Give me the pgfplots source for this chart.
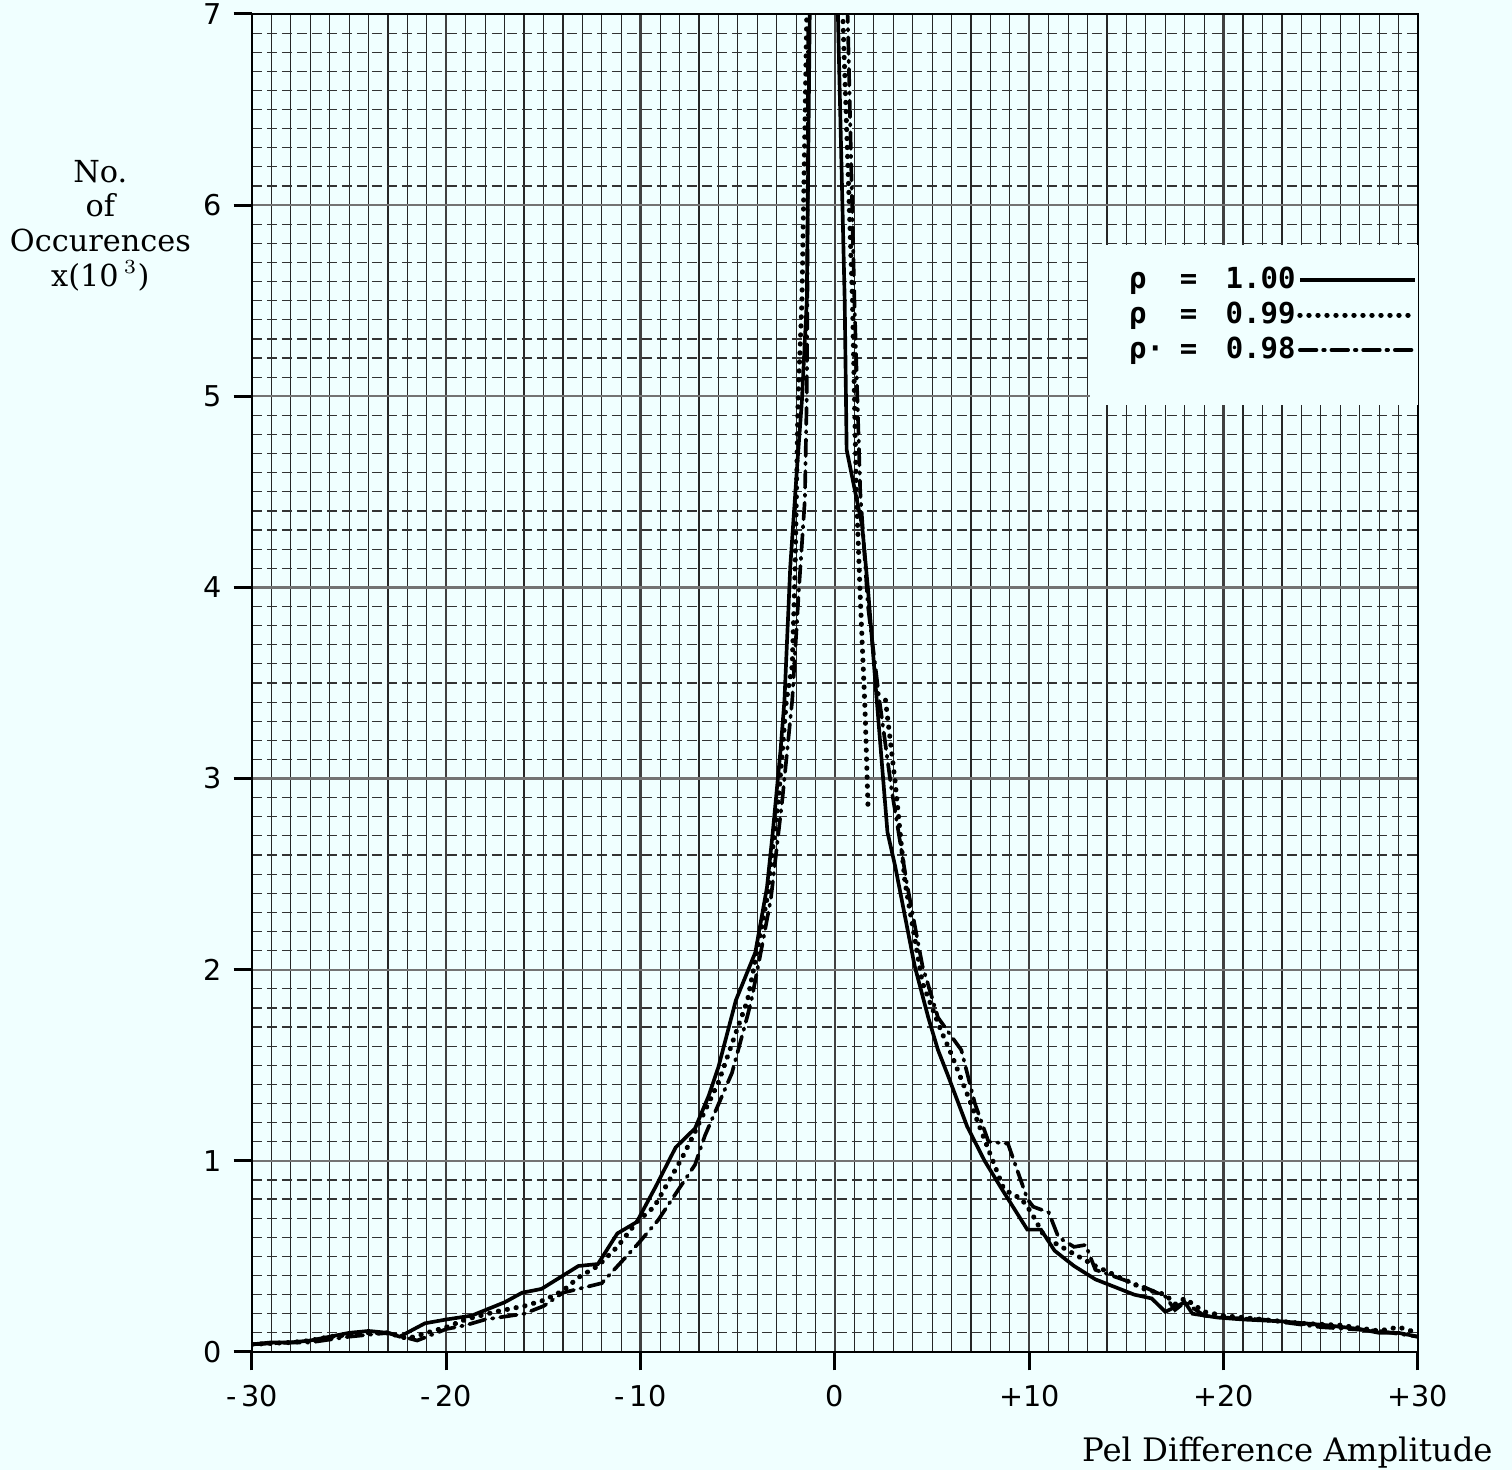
\documentclass[border=0pt]{standalone}
\usepackage{fontspec}
\setmainfont{DejaVu Serif}
\newfontfamily\ticksf{DejaVu Sans}
\newfontfamily\legmono{DejaVu Sans Mono}
\usepackage{pgfplots}
\pgfplotsset{compat=1.18}
\definecolor{bgpaper}{RGB}{240,255,255}

\begin{document}
\begin{tikzpicture}
\fill[bgpaper] (-75.6pt,-35.4pt) rectangle (378pt,405.6pt);
\begin{axis}[
  scale only axis, width=349.8pt, height=401.4pt,
  at={(0pt,0pt)}, anchor=south west,
  xmin=-30, xmax=30, ymin=0, ymax=7,
  xtick={-30,-20,...,30},
  xticklabels={-\,30,-\,20,-\,10,0,+10,+20,+30},
  ytick={0,1,...,7},
  minor x tick num=9, minor y tick num=9,
  minor tick length=0pt,
  tick pos=left, tick align=outside,
  x tick style={black, line width=0.9pt}, y tick style={black, line width=0.9pt},
  major tick length=5.5pt,
  grid=both,
  major x grid style={black!75, line width=0.7pt},
  major y grid style={black!55, line width=0.7pt},
  minor x grid style={black!85, line width=0.35pt},
  minor y grid style={black!80, line width=0.35pt, dash pattern=on 3pt off 1.5pt},
  axis line style={black, line width=0.5pt},
  /pgf/number format/assume math mode=true,
  tick label style={font=\ticksf\fontsize{8.6}{10}\selectfont},
  xticklabel style={yshift=-1pt},
  xlabel={Pel Difference Amplitude},
  xlabel style={at={(rel axis cs:0.888,-0.075)}, anchor=center, font=\fontsize{9.7}{11}\selectfont},
  ylabel={No.\\of\\Occurences\\x(10\,$^{3}$)},
  ylabel style={rotate=-90, at={(rel axis cs:-0.13,0.842)}, anchor=center, align=center,
    font=\fontsize{9.1}{10.4}\selectfont},
  legend plot pos=right,
  legend cell align=left,
  legend image code/.code={\draw[#1] (0pt,0pt) -- (34.5pt,0pt);},
  legend style={at={(rel axis cs:1.0,0.775)}, anchor=east, draw=none, fill=none,
    inner xsep=0pt,
    font=\legmono\bfseries\fontsize{8.7}{10}\selectfont, row sep=0.5pt,
    nodes={inner xsep=0.5pt, inner ysep=1pt, text height=6.5pt, text depth=1.5pt}},
  unbounded coords=jump,
]
\fill[bgpaper] (rel axis cs:0.719,0.708) rectangle (rel axis cs:1,0.827);

% rho = 1.00
\addplot[black, line width=1.1pt] coordinates {
(-30,0.04) (-29,0.05) (-28,0.05) (-27,0.06) (-26,0.08) (-25,0.10) (-24,0.11) (-23,0.10)
(-22.4,0.08) (-21.1,0.15) (-20,0.17) (-18.7,0.19) (-17,0.26) (-16.1,0.31) (-15.1,0.33)
(-13.2,0.45) (-12.2,0.46) (-11.2,0.62) (-10.2,0.68) (-9.2,0.87) (-8.2,1.07) (-7.2,1.17)
(-6.5,1.34) (-6.0,1.49) (-5.1,1.84) (-4.1,2.09) (-3.5,2.43) (-3.2,2.72) (-2.8,3.15)
(-2.6,3.41) (-2.3,4.11) (-1.95,4.63) (-1.7,4.98) (-1.45,5.5) (-1.3,7.0) (-1.25,8.5)
(0.1,8.5) (0.15,7.0) (0.5,5.5) (0.6,4.72) (1.4,4.32) (1.7,3.99) (2.15,3.41) (2.7,2.72)
(3.1,2.54) (3.6,2.28) (4.1,2.02) (4.8,1.75) (5.3,1.58) (5.8,1.45) (6.8,1.18) (7.7,1.00)
(8.6,0.85) (9.9,0.64) (10.6,0.64) (11.3,0.53) (12.3,0.45) (13.4,0.38) (15.4,0.30)
(16.3,0.28) (17.0,0.21) (18.0,0.26) (18.4,0.20) (19.7,0.18) (21,0.17) (23,0.16)
(25.3,0.14) (27,0.12) (28,0.10) (29,0.10) (30,0.08)
};
\addlegendentry{ρ\hspace{10pt}=\hspace{8.5pt}1.00}

% rho = 0.99
\addplot[black, line width=1.5pt, line cap=round, dash pattern=on 0.1pt off 2.6pt] coordinates {
(-30,0.04) (-28,0.05) (-27,0.06) (-26,0.08) (-25,0.09) (-24,0.10) (-23,0.10) (-22,0.07)
(-21,0.10) (-20,0.13) (-19,0.17) (-17.5,0.21) (-16,0.24) (-15,0.27) (-14,0.32)
(-13.2,0.39) (-12.2,0.45) (-11.2,0.55) (-10.2,0.68) (-9.3,0.76) (-7.9,1.01) (-7.4,1.11)
(-6.0,1.41) (-5.1,1.67) (-4.5,1.84) (-4.1,2.05) (-3.5,2.37) (-2.9,2.90) (-2.5,3.41)
(-2.2,3.59) (-2.05,4.11) (-1.9,4.98) (-1.7,5.5) (-1.45,7.0) (-1.4,8.5) (0.35,8.5)
(0.4,7.0) (0.9,5.5) (1.1,4.5) (1.3,3.95) (1.55,3.35) (1.7,2.85) (2.2,nan)
(2.6,3.41) (3.1,2.98) (3.6,2.46) (4.5,1.93) (5.5,1.67) (5.9,1.58) (6.8,1.35) (7.7,1.11)
(8.7,0.85) (9.6,0.80) (10.1,0.73) (10.8,0.60) (12.0,0.53) (13.4,0.45) (15.9,0.33)
(17,0.30) (17.5,0.25) (18,0.28) (19,0.21) (20,0.19) (22,0.17) (24,0.15) (26,0.14)
(28,0.11) (29,0.13) (30,0.10)
};
\addlegendentry{ρ\hspace{10pt}=\hspace{8.5pt}0.99}

% rho = 0.98
\addplot[black, line width=1.1pt, line cap=round, dash pattern=on 5pt off 2pt on 0.5pt off 2pt] coordinates {
(-30,0.04) (-28,0.05) (-27,0.05) (-25,0.08) (-23,0.10) (-21.5,0.06) (-20,0.12) (-19,0.14)
(-18,0.17) (-16,0.20) (-15,0.24) (-14,0.31) (-12,0.36) (-10.1,0.57) (-9.1,0.69)
(-7.2,0.98) (-6.7,1.13) (-5.3,1.46) (-4.5,1.76) (-4.3,1.84) (-3.8,2.10) (-3.3,2.37)
(-2.7,2.90) (-2.2,3.41) (-1.85,4.0) (-1.55,4.46) (-1.45,5.02) (-1.42,5.5) (-1.38,7.0)
(-1.35,8.5) (0.6,8.5) (0.65,7.0) (1.0,5.5) (1.3,4.5) (1.7,3.9) (2.3,3.4) (2.9,2.95)
(3.7,2.45) (4.5,2.02) (5.3,1.75) (6.0,1.65) (6.5,1.58) (7.2,1.30) (7.9,1.10) (8.9,1.09)
(9.9,0.80) (10.2,0.76) (11.0,0.73) (11.5,0.60) (12.3,0.55) (12.9,0.56) (13.4,0.43)
(15.9,0.34) (17,0.29) (17.5,0.22) (18,0.26) (19,0.19) (20,0.18) (22,0.17) (25,0.13)
(28,0.11) (30,0.08)
};
\addlegendentry{ρ·\hspace{4.8pt}=\hspace{8.5pt}0.98}
\end{axis}
\pgfresetboundingbox
\useasboundingbox (-75.6pt,-35.4pt) rectangle (378pt,405.6pt);
\end{tikzpicture}
\end{document}
